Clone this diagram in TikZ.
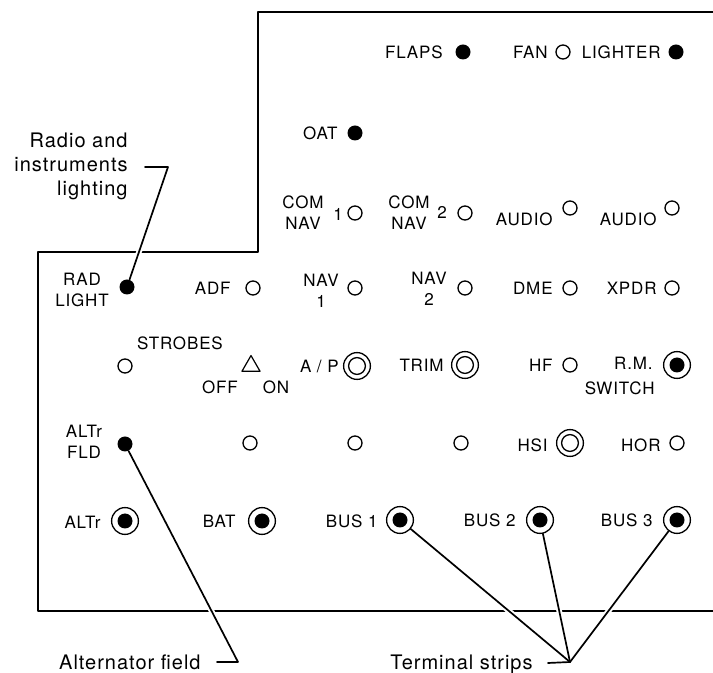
\documentclass[tikz,border=0pt]{standalone}
\usepackage{fontspec}
\setmainfont{TeX Gyre Heros}[LetterSpace=5]
\usetikzlibrary{shapes.geometric}
\tikzset{
  lamp/.style={circle, draw, line width=0.65pt, minimum size=7pt, inner sep=0pt},
  fuse/.style={circle, fill, minimum size=7.5pt, inner sep=0pt},
  jack/.style={circle, draw, line width=0.65pt, minimum size=13.4pt, inner sep=0pt,
    path picture={\draw[line width=0.65pt] (path picture bounding box.center) circle (4.2pt);}},
  post/.style={circle, draw, line width=0.65pt, minimum size=13.4pt, inner sep=0pt,
    path picture={\fill (path picture bounding box.center) circle (3.75pt);}},
  lbl/.style={font=\fontsize{8.5}{10.5}\selectfont, inner sep=0pt},
  stack/.style={lbl, align=center},
  note/.style={font=\fontsize{10}{12}\selectfont, inner sep=0pt, align=right},
  leader/.style={line width=0.85pt, preaction={draw=white, line width=2.8pt, shorten <=4pt, shorten >=4pt}}
}
\begin{document}
\begin{tikzpicture}[x=0.5pt, y=-0.5pt, line join=round, line cap=round]
  \useasboundingbox (0,0) rectangle (713,673);
  \draw[line width=0.7pt] (713,12) -- (258,12) -- (258,252) -- (38,252) -- (38,611) -- (713,611);
  % top rows
  \node[fuse] (flaps) at (463,52) {};
  \node[lamp] (fan) at (563,52) {};
  \node[fuse] (lighter) at (676,52) {};
  \node[lbl, anchor=east] (flapsl) at (443,52) {FLAPS};
  \node[lbl, anchor=east] (fanl) at (548,52) {FAN};
  \node[lbl, anchor=east] (lighterl) at (661,52) {LIGHTER};
  \node[fuse] (oat) at (355,133) {};
  \node[lbl, anchor=east] (oatl) at (338,133) {OAT};
  \node[lamp] (com1) at (355,213) {};
  \node[lamp] (com2) at (465,213) {};
  \node[lamp] (audio1) at (570,208) {};
  \node[lamp] (audio2) at (672,208) {};
  \node[stack] (com1l) at (303,213) {COM\\NAV};
  \node[lbl] (com1n) at (338,214) {1};
  \node[stack] (com2l) at (409,213) {COM\\NAV};
  \node[lbl] (com2n) at (442,212) {2};
  \node[lbl, anchor=east] (audio1l) at (553,219) {AUDIO};
  \node[lbl, anchor=east] (audio2l) at (657,219) {AUDIO};
  % nav row
  \node[fuse] (radlight) at (127,287) {};
  \node[lamp] (adf) at (253,288) {};
  \node[lamp] (nav1) at (355,288) {};
  \node[lamp] (nav2) at (465,288) {};
  \node[lamp] (dme) at (570,288) {};
  \node[lamp] (xpdr) at (672,288) {};
  \node[stack] (radlightl) at (82,290) {RAD\\LIGHT};
  \node[lbl, anchor=east] (adfl) at (231,288) {ADF};
  \node[stack] (nav1l) at (321,291) {NAV\\1};
  \node[stack] (nav2l) at (429,289) {NAV\\2};
  \node[lbl, anchor=east] (dmel) at (553,288) {DME};
  \node[lbl, anchor=east] (xpdrl) at (657,288) {XPDR};
  % switch row
  \node[lamp] (strobes) at (125,366) {};
  \node[regular polygon, regular polygon sides=3, draw, line width=0.6pt, minimum size=10.4pt, inner sep=0pt] (toggle) at (251,366) {};
  \node[jack] (ap) at (357,366) {};
  \node[jack] (trim) at (465,365) {};
  \node[lamp] (hf) at (570,365) {};
  \node[post] (rmswitch) at (677,365) {};
  \node[lbl] (strobesl) at (180,343) {STROBES};
  \node[lbl] (offl) at (220,387) {OFF};
  \node[lbl] (onl) at (276,387) {ON};
  \node[lbl, anchor=east] (apl) at (339,366) {A / P};
  \node[lbl, anchor=east] (triml) at (444,365) {TRIM};
  \node[lbl, anchor=east] (hfl) at (553,365) {HF};
  \node[lbl, anchor=east] (rml) at (653,363) {R.M.};
  \node[lbl, anchor=east] (switchl) at (655,388) {SWITCH};
  % field row
  \node[fuse] (altrfld) at (125,444) {};
  \node[lamp] (spare1) at (250,443) {};
  \node[lamp] (spare2) at (355,443) {};
  \node[lamp] (spare3) at (461,443) {};
  \node[jack] (hsi) at (570,443) {};
  \node[lamp] (hor) at (677,443) {};
  \node[stack] (altrfldl) at (84,442) {ALTr\\FLD};
  \node[lbl, anchor=east] (hsil) at (548,445) {HSI};
  \node[lbl, anchor=east] (horl) at (661,445) {HOR};
  % terminal row
  \node[post] (altr) at (125,521) {};
  \node[post] (bat) at (262,521) {};
  \node[post] (bus1) at (400,520) {};
  \node[post] (bus2) at (540,520) {};
  \node[post] (bus3) at (677,520) {};
  \node[lbl, anchor=east] (altrl) at (101,522) {ALTr};
  \node[lbl, anchor=east] (batl) at (236,521) {BAT};
  \node[lbl, anchor=east] (bus1l) at (378,521) {BUS 1};
  \node[lbl, anchor=east] (bus2l) at (516,520) {BUS 2};
  \node[lbl, anchor=east] (bus3l) at (653,520) {BUS 3};
  % callouts
  \node[note, anchor=east] (radiol) at (128,166) {Radio and\\instruments\\lighting};
  \node[note, anchor=east] (altfieldl) at (201,662) {Alternator field};
  \node[note, anchor=east] (stripsl) at (533,664) {Terminal strips};
  \path (145,167) coordinate (rtail) (168,167) coordinate (rbend)
        (217,662) coordinate (atail) (238,662) coordinate (abend)
        (548,663) coordinate (ttail) (570,662) coordinate (tbend);
  \draw[leader] (rtail) -- (rbend) -- (radlight);
  \draw[leader] (atail) -- (abend) -- (altrfld);
  \draw[leader] (ttail) -- (tbend);
  \foreach \b in {bus1,bus2,bus3}
    \draw[leader] (tbend) -- (\b);
\end{tikzpicture}
\end{document}
